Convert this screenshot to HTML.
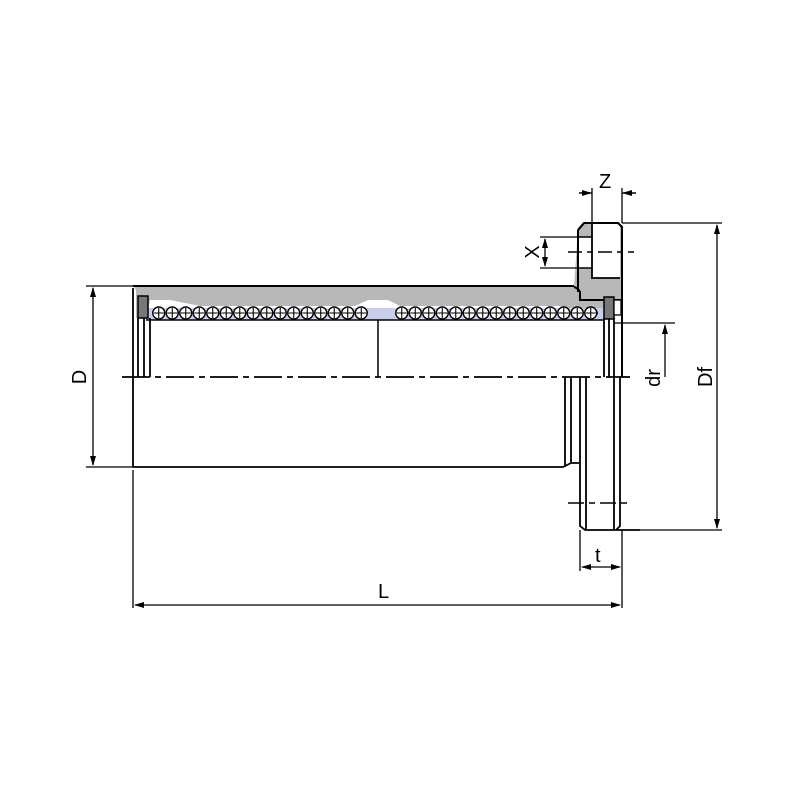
<!DOCTYPE html><html><head><style>body{margin:0;background:#fff}text{font-family:"Liberation Sans",sans-serif;font-size:20px}</style></head><body>
<svg width="800" height="800" viewBox="0 0 800 800" xmlns="http://www.w3.org/2000/svg">
<defs>
<marker id="a" markerWidth="10" markerHeight="8" refX="9" refY="4" orient="auto-start-reverse" markerUnits="userSpaceOnUse"><path d="M0,1 L10,4 L0,7z" fill="#000"/></marker>
<pattern id="b" width="13.5" height="14" patternUnits="userSpaceOnUse" x="152" y="306"><circle cx="6.75" cy="7" r="6" fill="#fff" stroke="#000" stroke-width="1.4"/><path d="M6.75 2v10M1.75 7h10" stroke="#000" stroke-width="1.1"/></pattern>
</defs>
<g stroke="#000" stroke-width="2" fill="none">
<path d="M134,287 H574 Q578,288 580,292 L580,278 H620 V300 H604 V318 H580 L560,306 H400 L388,300 H368 L355,306 H200 L170,300 H150 L146,318 H136 V290z" fill="#b8b8b8" stroke="none"/>
<path d="M578,230 L584,223 H618 L622,227 V300 H580 V292 Q578,288 574,287" fill="#b8b8b8"/>
<rect x="592" y="224" width="28" height="54" fill="#fff" stroke="none"/>
<rect x="579" y="237" width="14" height="31" fill="#fff" stroke="none"/>
<path d="M578,230 L584,223 H618 L622,227" stroke-width="2"/>
<path d="M592,223 V278 H620" stroke-width="1.8"/>
<path d="M578,237 H592 M578,268 H592" stroke-width="1.5"/>
<path d="M578,230 V292 M622,227 V377" stroke-width="2"/>
<rect x="146" y="308" width="458" height="12" fill="#c8cdec" stroke="none"/>
<rect x="152" y="306" width="216" height="14" fill="url(#b)" stroke="none"/>
<rect x="395" y="306" width="203" height="14" fill="url(#b)" stroke="none"/>
<path d="M133,286 H574" />
<path d="M146,320 H604" stroke-width="1.5"/>
<rect x="138" y="296" width="10" height="22" fill="#777" stroke-width="1.5"/>
<rect x="604" y="297" width="10" height="22" fill="#777" stroke-width="1.5"/>
<rect x="614" y="300" width="7" height="15" fill="#fff" stroke-width="1.3"/>
<path d="M133,288 V467 M138,318 V377 M144,318 V377 M150,318 V377 M604,318 V377 M609,318 V377 M614,318 V377" stroke-width="1.8"/>
<path d="M378,320 V377" stroke-width="1.5"/>
<path d="M133,467 H563 L571,463 H579 M565,377 V467 M571,377 V463" stroke-width="1.8"/>
<path d="M580,377 V526 L585,530 H640 M586,377 V530 M614,377 V530 M620,377 V526 L616,530" stroke-width="1.8"/>
<path d="M122,377 H630" stroke-dasharray="28,5,6,5" stroke-width="1.8"/>
<path d="M568,503 H632" stroke-dasharray="16,5,6,5" stroke-width="1.5"/>
<path d="M568,252 H634" stroke-dasharray="14,5,6,5" stroke-width="1.5"/>
<g stroke-width="1.3">
<path d="M86,286 H133 M86,467 H133"/>
<path d="M93,288 V465" marker-start="url(#a)" marker-end="url(#a)"/>
<path d="M133,470 V608 M622,530 V608 M580,530 V571"/>
<path d="M135,605 H620" marker-start="url(#a)" marker-end="url(#a)"/>
<path d="M582,567 H620" marker-start="url(#a)" marker-end="url(#a)"/>
<path d="M622,223 H722 M640,530 H722"/>
<path d="M717,225 V528" marker-start="url(#a)" marker-end="url(#a)"/>
<path d="M614,323 H675"/>
<path d="M665,325 V377" marker-start="url(#a)"/>
<path d="M592,188 V223 M622,188 V223"/>
<path d="M579,193 H592 M622,193 H636"/>
<path d="M579,193 H591" marker-end="url(#a)"/><path d="M636,193 H623" marker-end="url(#a)"/>
<path d="M540,237 H578 M540,268 H578"/>
<path d="M545,239 V266" marker-start="url(#a)" marker-end="url(#a)"/>
</g>
</g>
<text x="378" y="598" font-size="22">L</text>
<text x="595" y="562" font-size="22">t</text>
<text x="599" y="188" font-size="22">Z</text>
<text transform="translate(86,377) rotate(-90)" font-size="22" text-anchor="middle">D</text>
<text transform="translate(712,377) rotate(-90)" font-size="22" text-anchor="middle">Df</text>
<text transform="translate(660,378) rotate(-90)" font-size="20" text-anchor="middle">dr</text>
<text transform="translate(539,252) rotate(-90)" font-size="22" text-anchor="middle">X</text>
</svg></body></html>
